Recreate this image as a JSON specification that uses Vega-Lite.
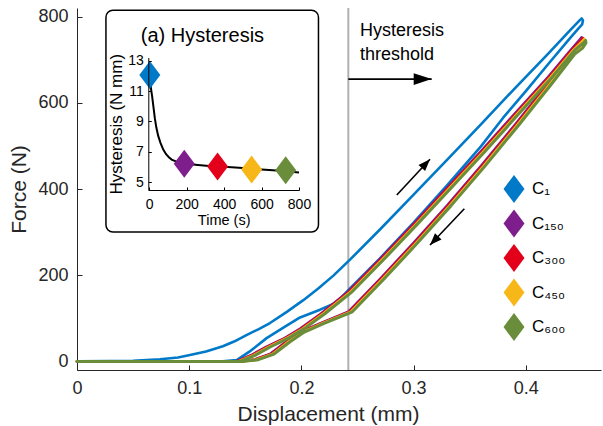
{
  "$schema": "https://vega.github.io/schema/vega-lite/v6.json",
  "width": 524,
  "height": 362,
  "autosize": {"type": "none"},
  "padding": {"left": 77, "top": 8, "right": 2, "bottom": 56},
  "config": {
    "font": "Liberation Sans",
    "view": {"stroke": null},
    "axis": {"grid": false, "labelFont": "Liberation Sans", "titleFont": "Liberation Sans", "titleFontWeight": "normal", "labelFlush": false, "labelOverlap": false},
    "legend": {"labelFont": "Liberation Sans"}
  },
  "datasets": {
    "threshold": [{"d": 0.2418, "f": -20, "f2": 820}],
    "box": [{"d": 0.0258, "d2": 0.2152, "f": 300, "f2": 815}],
    "notes": [
      {"d": 0.2522, "f": 755, "txt": "Hysteresis"},
      {"d": 0.2522, "f": 699, "txt": "threshold"}
    ],
    "insetTitle": [{"d": 0.0568, "f": 740, "txt": "(a) Hysteresis"}],
    "arrows": [
      {"name": "thr", "d": 0.2418, "f": 655, "d2": 0.3161, "f2": 655},
      {"name": "up", "d": 0.285, "f": 386, "d2": 0.3146, "f2": 469},
      {"name": "down", "d": 0.3452, "f": 354, "d2": 0.3146, "f2": 270}
    ],
    "heads": [
      {"name": "thr", "d": 0.3161, "f": 655},
      {"name": "up", "d": 0.3146, "f": 469},
      {"name": "down", "d": 0.3146, "f": 270}
    ],
    "fit": [
      {"t": 3, "h": 12.05}, {"t": 6, "h": 11.6}, {"t": 10, "h": 11.1}, {"t": 16, "h": 10.6},
      {"t": 22, "h": 10.0}, {"t": 30, "h": 9.2}, {"t": 38, "h": 8.6}, {"t": 48, "h": 8.05},
      {"t": 60, "h": 7.6}, {"t": 75, "h": 7.15}, {"t": 90, "h": 6.85}, {"t": 105, "h": 6.65},
      {"t": 120, "h": 6.5}, {"t": 145, "h": 6.36}, {"t": 175, "h": 6.27}, {"t": 210, "h": 6.2},
      {"t": 260, "h": 6.14}, {"t": 320, "h": 6.08}, {"t": 400, "h": 6.02}, {"t": 500, "h": 5.94},
      {"t": 600, "h": 5.85}, {"t": 700, "h": 5.76}, {"t": 800, "h": 5.65}
    ],
    "hyst": [
      {"series": "C₁", "t": 3, "h": 12.05},
      {"series": "C₁₅₀", "t": 187, "h": 6.23},
      {"series": "C₃₀₀", "t": 365, "h": 6.05},
      {"series": "C₄₅₀", "t": 547, "h": 5.84},
      {"series": "C₆₀₀", "t": 729, "h": 5.79}
    ],
    "curves": [
      {"series": "C₁", "i": 0, "d": 0, "f": 0},
      {"series": "C₁", "i": 1, "d": 0.03, "f": 0.5},
      {"series": "C₁", "i": 2, "d": 0.05, "f": 1.5},
      {"series": "C₁", "i": 3, "d": 0.074, "f": 5},
      {"series": "C₁", "i": 4, "d": 0.09, "f": 9},
      {"series": "C₁", "i": 5, "d": 0.1007, "f": 15},
      {"series": "C₁", "i": 6, "d": 0.115, "f": 23},
      {"series": "C₁", "i": 7, "d": 0.13, "f": 35},
      {"series": "C₁", "i": 8, "d": 0.14, "f": 46},
      {"series": "C₁", "i": 9, "d": 0.151, "f": 61},
      {"series": "C₁", "i": 10, "d": 0.162, "f": 75},
      {"series": "C₁", "i": 11, "d": 0.172, "f": 89},
      {"series": "C₁", "i": 12, "d": 0.187, "f": 115},
      {"series": "C₁", "i": 13, "d": 0.2017, "f": 142},
      {"series": "C₁", "i": 14, "d": 0.215, "f": 169},
      {"series": "C₁", "i": 15, "d": 0.2285, "f": 199},
      {"series": "C₁", "i": 16, "d": 0.2433, "f": 236},
      {"series": "C₁", "i": 17, "d": 0.27, "f": 306},
      {"series": "C₁", "i": 18, "d": 0.30, "f": 387},
      {"series": "C₁", "i": 19, "d": 0.33, "f": 468},
      {"series": "C₁", "i": 20, "d": 0.36, "f": 550},
      {"series": "C₁", "i": 21, "d": 0.39, "f": 633},
      {"series": "C₁", "i": 22, "d": 0.42, "f": 714},
      {"series": "C₁", "i": 23, "d": 0.44, "f": 770},
      {"series": "C₁", "i": 24, "d": 0.4475, "f": 790},
      {"series": "C₁", "i": 25, "d": 0.4498, "f": 796},
      {"series": "C₁", "i": 26, "d": 0.4509, "f": 791},
      {"series": "C₁", "i": 27, "d": 0.4502, "f": 782},
      {"series": "C₁", "i": 28, "d": 0.446, "f": 770},
      {"series": "C₁", "i": 29, "d": 0.44, "f": 752},
      {"series": "C₁", "i": 30, "d": 0.42, "f": 690},
      {"series": "C₁", "i": 31, "d": 0.40, "f": 627},
      {"series": "C₁", "i": 32, "d": 0.38, "f": 566},
      {"series": "C₁", "i": 33, "d": 0.36, "f": 499},
      {"series": "C₁", "i": 34, "d": 0.33, "f": 409},
      {"series": "C₁", "i": 35, "d": 0.30, "f": 322},
      {"series": "C₁", "i": 36, "d": 0.27, "f": 239},
      {"series": "C₁", "i": 37, "d": 0.2418, "f": 165},
      {"series": "C₁", "i": 38, "d": 0.2315, "f": 137},
      {"series": "C₁", "i": 39, "d": 0.2166, "f": 120},
      {"series": "C₁", "i": 40, "d": 0.1988, "f": 102},
      {"series": "C₁", "i": 41, "d": 0.185, "f": 80},
      {"series": "C₁", "i": 42, "d": 0.169, "f": 54},
      {"series": "C₁", "i": 43, "d": 0.155, "f": 25},
      {"series": "C₁", "i": 44, "d": 0.1423, "f": 3},
      {"series": "C₁", "i": 45, "d": 0.13, "f": 0},
      {"series": "C₁", "i": 46, "d": 0, "f": 0},

      {"series": "C₁₅₀", "i": 0, "d": 0, "f": 0},
      {"series": "C₁₅₀", "i": 1, "d": 0.142, "f": 0},
      {"series": "C₁₅₀", "i": 2, "d": 0.155, "f": 14},
      {"series": "C₁₅₀", "i": 3, "d": 0.169, "f": 34},
      {"series": "C₁₅₀", "i": 4, "d": 0.185, "f": 54},
      {"series": "C₁₅₀", "i": 5, "d": 0.199, "f": 76},
      {"series": "C₁₅₀", "i": 6, "d": 0.217, "f": 110},
      {"series": "C₁₅₀", "i": 7, "d": 0.2418, "f": 162},
      {"series": "C₁₅₀", "i": 8, "d": 0.27, "f": 237},
      {"series": "C₁₅₀", "i": 9, "d": 0.30, "f": 319},
      {"series": "C₁₅₀", "i": 10, "d": 0.33, "f": 403},
      {"series": "C₁₅₀", "i": 11, "d": 0.36, "f": 487},
      {"series": "C₁₅₀", "i": 12, "d": 0.39, "f": 574},
      {"series": "C₁₅₀", "i": 13, "d": 0.42, "f": 660},
      {"series": "C₁₅₀", "i": 14, "d": 0.44, "f": 722},
      {"series": "C₁₅₀", "i": 15, "d": 0.4485, "f": 748},
      {"series": "C₁₅₀", "i": 16, "d": 0.4497, "f": 752},
      {"series": "C₁₅₀", "i": 17, "d": 0.45, "f": 746},
      {"series": "C₁₅₀", "i": 18, "d": 0.447, "f": 734},
      {"series": "C₁₅₀", "i": 19, "d": 0.44, "f": 713},
      {"series": "C₁₅₀", "i": 20, "d": 0.42, "f": 646},
      {"series": "C₁₅₀", "i": 21, "d": 0.39, "f": 548},
      {"series": "C₁₅₀", "i": 22, "d": 0.36, "f": 453},
      {"series": "C₁₅₀", "i": 23, "d": 0.33, "f": 362},
      {"series": "C₁₅₀", "i": 24, "d": 0.30, "f": 275},
      {"series": "C₁₅₀", "i": 25, "d": 0.27, "f": 191},
      {"series": "C₁₅₀", "i": 26, "d": 0.2418, "f": 115},
      {"series": "C₁₅₀", "i": 27, "d": 0.2166, "f": 88},
      {"series": "C₁₅₀", "i": 28, "d": 0.199, "f": 68},
      {"series": "C₁₅₀", "i": 29, "d": 0.186, "f": 45},
      {"series": "C₁₅₀", "i": 30, "d": 0.172, "f": 17},
      {"series": "C₁₅₀", "i": 31, "d": 0.158, "f": 4},
      {"series": "C₁₅₀", "i": 32, "d": 0.145, "f": 0},
      {"series": "C₁₅₀", "i": 33, "d": 0, "f": 0},

      {"series": "C₃₀₀", "i": 0, "d": 0, "f": 0},
      {"series": "C₃₀₀", "i": 1, "d": 0.1432, "f": 0},
      {"series": "C₃₀₀", "i": 2, "d": 0.1562, "f": 14},
      {"series": "C₃₀₀", "i": 3, "d": 0.1702, "f": 34},
      {"series": "C₃₀₀", "i": 4, "d": 0.1862, "f": 54},
      {"series": "C₃₀₀", "i": 5, "d": 0.2002, "f": 76},
      {"series": "C₃₀₀", "i": 6, "d": 0.2182, "f": 110},
      {"series": "C₃₀₀", "i": 7, "d": 0.243, "f": 162},
      {"series": "C₃₀₀", "i": 8, "d": 0.2712, "f": 237},
      {"series": "C₃₀₀", "i": 9, "d": 0.3012, "f": 319},
      {"series": "C₃₀₀", "i": 10, "d": 0.3312, "f": 403},
      {"series": "C₃₀₀", "i": 11, "d": 0.3612, "f": 487},
      {"series": "C₃₀₀", "i": 12, "d": 0.3912, "f": 574},
      {"series": "C₃₀₀", "i": 13, "d": 0.4212, "f": 660},
      {"series": "C₃₀₀", "i": 14, "d": 0.4412, "f": 722},
      {"series": "C₃₀₀", "i": 15, "d": 0.4497, "f": 746},
      {"series": "C₃₀₀", "i": 16, "d": 0.4509, "f": 750},
      {"series": "C₃₀₀", "i": 17, "d": 0.4512, "f": 744},
      {"series": "C₃₀₀", "i": 18, "d": 0.4482, "f": 732},
      {"series": "C₃₀₀", "i": 19, "d": 0.4412, "f": 713},
      {"series": "C₃₀₀", "i": 20, "d": 0.4212, "f": 646},
      {"series": "C₃₀₀", "i": 21, "d": 0.3912, "f": 548},
      {"series": "C₃₀₀", "i": 22, "d": 0.3612, "f": 453},
      {"series": "C₃₀₀", "i": 23, "d": 0.3312, "f": 362},
      {"series": "C₃₀₀", "i": 24, "d": 0.3012, "f": 275},
      {"series": "C₃₀₀", "i": 25, "d": 0.2712, "f": 191},
      {"series": "C₃₀₀", "i": 26, "d": 0.243, "f": 115},
      {"series": "C₃₀₀", "i": 27, "d": 0.2178, "f": 88},
      {"series": "C₃₀₀", "i": 28, "d": 0.2002, "f": 68},
      {"series": "C₃₀₀", "i": 29, "d": 0.1872, "f": 45},
      {"series": "C₃₀₀", "i": 30, "d": 0.1732, "f": 17},
      {"series": "C₃₀₀", "i": 31, "d": 0.1592, "f": 4},
      {"series": "C₃₀₀", "i": 32, "d": 0.1462, "f": 0},
      {"series": "C₃₀₀", "i": 33, "d": 0, "f": 0},

      {"series": "C₄₅₀", "i": 0, "d": 0, "f": 0},
      {"series": "C₄₅₀", "i": 1, "d": 0.1444, "f": 0},
      {"series": "C₄₅₀", "i": 2, "d": 0.1574, "f": 14},
      {"series": "C₄₅₀", "i": 3, "d": 0.1714, "f": 34},
      {"series": "C₄₅₀", "i": 4, "d": 0.1874, "f": 54},
      {"series": "C₄₅₀", "i": 5, "d": 0.2014, "f": 76},
      {"series": "C₄₅₀", "i": 6, "d": 0.2194, "f": 110},
      {"series": "C₄₅₀", "i": 7, "d": 0.2442, "f": 162},
      {"series": "C₄₅₀", "i": 8, "d": 0.2724, "f": 237},
      {"series": "C₄₅₀", "i": 9, "d": 0.3024, "f": 319},
      {"series": "C₄₅₀", "i": 10, "d": 0.3324, "f": 403},
      {"series": "C₄₅₀", "i": 11, "d": 0.3624, "f": 487},
      {"series": "C₄₅₀", "i": 12, "d": 0.3924, "f": 574},
      {"series": "C₄₅₀", "i": 13, "d": 0.4224, "f": 660},
      {"series": "C₄₅₀", "i": 14, "d": 0.4424, "f": 722},
      {"series": "C₄₅₀", "i": 15, "d": 0.4509, "f": 744},
      {"series": "C₄₅₀", "i": 16, "d": 0.4521, "f": 748},
      {"series": "C₄₅₀", "i": 17, "d": 0.4524, "f": 742},
      {"series": "C₄₅₀", "i": 18, "d": 0.4494, "f": 730},
      {"series": "C₄₅₀", "i": 19, "d": 0.4424, "f": 713},
      {"series": "C₄₅₀", "i": 20, "d": 0.4224, "f": 646},
      {"series": "C₄₅₀", "i": 21, "d": 0.3924, "f": 548},
      {"series": "C₄₅₀", "i": 22, "d": 0.3624, "f": 453},
      {"series": "C₄₅₀", "i": 23, "d": 0.3324, "f": 362},
      {"series": "C₄₅₀", "i": 24, "d": 0.3024, "f": 275},
      {"series": "C₄₅₀", "i": 25, "d": 0.2724, "f": 191},
      {"series": "C₄₅₀", "i": 26, "d": 0.2442, "f": 115},
      {"series": "C₄₅₀", "i": 27, "d": 0.219, "f": 88},
      {"series": "C₄₅₀", "i": 28, "d": 0.2014, "f": 68},
      {"series": "C₄₅₀", "i": 29, "d": 0.1884, "f": 45},
      {"series": "C₄₅₀", "i": 30, "d": 0.1744, "f": 17},
      {"series": "C₄₅₀", "i": 31, "d": 0.1604, "f": 4},
      {"series": "C₄₅₀", "i": 32, "d": 0.1474, "f": 0},
      {"series": "C₄₅₀", "i": 33, "d": 0, "f": 0},

      {"series": "C₆₀₀", "i": 0, "d": 0, "f": 0},
      {"series": "C₆₀₀", "i": 1, "d": 0.1456, "f": 0},
      {"series": "C₆₀₀", "i": 2, "d": 0.1586, "f": 14},
      {"series": "C₆₀₀", "i": 3, "d": 0.1726, "f": 34},
      {"series": "C₆₀₀", "i": 4, "d": 0.1886, "f": 54},
      {"series": "C₆₀₀", "i": 5, "d": 0.2026, "f": 76},
      {"series": "C₆₀₀", "i": 6, "d": 0.2206, "f": 110},
      {"series": "C₆₀₀", "i": 7, "d": 0.2454, "f": 162},
      {"series": "C₆₀₀", "i": 8, "d": 0.2736, "f": 237},
      {"series": "C₆₀₀", "i": 9, "d": 0.3036, "f": 319},
      {"series": "C₆₀₀", "i": 10, "d": 0.3336, "f": 403},
      {"series": "C₆₀₀", "i": 11, "d": 0.3636, "f": 487},
      {"series": "C₆₀₀", "i": 12, "d": 0.3936, "f": 574},
      {"series": "C₆₀₀", "i": 13, "d": 0.4236, "f": 660},
      {"series": "C₆₀₀", "i": 14, "d": 0.4436, "f": 722},
      {"series": "C₆₀₀", "i": 15, "d": 0.4521, "f": 741},
      {"series": "C₆₀₀", "i": 16, "d": 0.4533, "f": 745},
      {"series": "C₆₀₀", "i": 17, "d": 0.4536, "f": 739},
      {"series": "C₆₀₀", "i": 18, "d": 0.4506, "f": 727},
      {"series": "C₆₀₀", "i": 19, "d": 0.4436, "f": 713},
      {"series": "C₆₀₀", "i": 20, "d": 0.4236, "f": 646},
      {"series": "C₆₀₀", "i": 21, "d": 0.3936, "f": 548},
      {"series": "C₆₀₀", "i": 22, "d": 0.3636, "f": 453},
      {"series": "C₆₀₀", "i": 23, "d": 0.3336, "f": 362},
      {"series": "C₆₀₀", "i": 24, "d": 0.3036, "f": 275},
      {"series": "C₆₀₀", "i": 25, "d": 0.2736, "f": 191},
      {"series": "C₆₀₀", "i": 26, "d": 0.2454, "f": 115},
      {"series": "C₆₀₀", "i": 27, "d": 0.2202, "f": 88},
      {"series": "C₆₀₀", "i": 28, "d": 0.2026, "f": 68},
      {"series": "C₆₀₀", "i": 29, "d": 0.1896, "f": 45},
      {"series": "C₆₀₀", "i": 30, "d": 0.1756, "f": 17},
      {"series": "C₆₀₀", "i": 31, "d": 0.1616, "f": 4},
      {"series": "C₆₀₀", "i": 32, "d": 0.1486, "f": 0},
      {"series": "C₆₀₀", "i": 33, "d": 0, "f": 0}
    ]
  },
  "layer": [
    {
      "encoding": {
        "x": {
          "field": "d", "type": "quantitative",
          "scale": {"domain": [0, 0.467], "nice": false, "zero": false},
          "axis": {
            "values": [0, 0.1, 0.2, 0.3, 0.4], "format": "~g",
            "tickSize": -5, "labelPadding": 14, "labelFontSize": 18,
            "labelColor": "#262626", "domainColor": "#262626", "tickColor": "#262626",
            "title": "Displacement (mm)", "titleFontSize": 21, "titleColor": "#262626", "titlePadding": 6, "titleX": 251
          }
        },
        "y": {
          "field": "f", "type": "quantitative",
          "scale": {"domain": [-20, 820], "nice": false, "zero": false},
          "axis": {
            "values": [0, 200, 400, 600, 800],
            "tickSize": -5, "labelPadding": 14, "labelFontSize": 18,
            "labelColor": "#262626", "domainColor": "#262626", "tickColor": "#262626",
            "title": "Force (N)", "titleFontSize": 21, "titleColor": "#262626", "titlePadding": 8
          }
        }
      },
      "layer": [
        {
          "data": {"name": "threshold"},
          "mark": {"type": "rule", "color": "#B0B0B0", "strokeWidth": 2},
          "encoding": {"y2": {"field": "f2"}}
        },
        {
          "data": {"name": "curves"},
          "mark": {"type": "line", "strokeCap": "round", "strokeJoin": "round"},
          "encoding": {
            "order": {"field": "i", "type": "quantitative"},
            "stroke": {
              "field": "series", "type": "nominal",
              "scale": {"domain": ["C₁", "C₁₅₀", "C₃₀₀", "C₄₅₀", "C₆₀₀"], "range": ["#0079C9", "#7D1E8C", "#E2001A", "#F7B718", "#6A8D3B"]},
              "legend": null
            },
            "strokeWidth": {
              "field": "series", "type": "nominal",
              "scale": {"domain": ["C₁", "C₁₅₀", "C₃₀₀", "C₄₅₀", "C₆₀₀"], "range": [2.6, 3, 3, 3, 3.8]},
              "legend": null
            }
          }
        },
        {
          "data": {"name": "box"},
          "mark": {"type": "rect", "fill": "#FFFFFF", "stroke": "#000000", "strokeWidth": 1.5, "cornerRadius": 7},
          "encoding": {"x2": {"field": "d2"}, "y2": {"field": "f2"}}
        },
        {
          "data": {"name": "insetTitle"},
          "mark": {"type": "text", "align": "left", "baseline": "alphabetic", "fontSize": 20, "color": "#000000"},
          "encoding": {"text": {"field": "txt"}}
        },
        {
          "data": {"name": "notes"},
          "mark": {"type": "text", "align": "left", "baseline": "alphabetic", "fontSize": 18, "color": "#000000"},
          "encoding": {"text": {"field": "txt"}}
        },
        {
          "data": {"name": "arrows"},
          "mark": {"type": "rule", "color": "#000000", "strokeWidth": 1.6},
          "encoding": {"x2": {"field": "d2"}, "y2": {"field": "f2"}}
        },
        {
          "data": {"name": "heads"},
          "transform": [{"filter": "datum.name == 'thr'"}],
          "mark": {"type": "point", "filled": true, "opacity": 1, "color": "#000000", "strokeWidth": 0, "shape": "M0,0L0.33,1L-0.33,1Z", "size": 1296, "angle": 90},
          "encoding": {}
        },
        {
          "data": {"name": "heads"},
          "transform": [{"filter": "datum.name == 'up'"}],
          "mark": {"type": "point", "filled": true, "opacity": 1, "color": "#000000", "strokeWidth": 0, "shape": "M0,0L0.375,1L-0.375,1Z", "size": 576, "angle": 43},
          "encoding": {}
        },
        {
          "data": {"name": "heads"},
          "transform": [{"filter": "datum.name == 'down'"}],
          "mark": {"type": "point", "filled": true, "opacity": 1, "color": "#000000", "strokeWidth": 0, "shape": "M0,0L0.375,1L-0.375,1Z", "size": 576, "angle": 223.6},
          "encoding": {}
        }
      ]
    },
    {
      "encoding": {
        "x": {
          "field": "t", "type": "quantitative",
          "scale": {"domain": [-5, 800], "range": [71.3, 222], "nice": false, "zero": false},
          "axis": {
            "orient": "bottom", "offset": -180, "values": [0, 200, 400, 600, 800],
            "tickSize": -3, "labelPadding": 10, "labelFontSize": 14,
            "labelColor": "#000000", "domainColor": "#000000", "tickColor": "#000000",
            "title": "Time (s)", "titleFontSize": 14.5, "titleColor": "#000000", "titlePadding": 2, "zindex": 1
          }
        },
        "y": {
          "field": "h", "type": "quantitative",
          "scale": {"domain": [4.5, 13.2], "range": [182, 49.5], "nice": false, "zero": false},
          "axis": {
            "orient": "left", "offset": -71.3, "values": [5, 7, 9, 11, 13],
            "tickSize": -3, "labelPadding": 8, "labelFontSize": 14,
            "labelColor": "#000000", "domainColor": "#000000", "tickColor": "#000000",
            "title": "Hysteresis (N mm)", "titleFontSize": 17, "titleColor": "#000000", "titlePadding": 2, "zindex": 1
          }
        }
      },
      "layer": [
        {
          "data": {"name": "fit"},
          "mark": {"type": "line", "color": "#000000", "strokeWidth": 2},
          "encoding": {}
        },
        {
          "data": {"name": "hyst"},
          "mark": {"type": "point", "filled": true, "opacity": 1, "shape": "M0,-1L0.75,0L0,1L-0.75,0Z", "size": 784},
          "encoding": {
            "color": {
              "field": "series", "type": "nominal",
              "scale": {"domain": ["C₁", "C₁₅₀", "C₃₀₀", "C₄₅₀", "C₆₀₀"], "range": ["#0079C9", "#7D1E8C", "#E2001A", "#F7B718", "#6A8D3B"]},
              "legend": {
                "orient": "none", "legendX": 423, "legendY": 167, "title": null,
                "symbolType": "M0,-1L0.75,0L0,1L-0.75,0Z", "symbolSize": 784, "symbolStrokeWidth": 0, "symbolOpacity": 1,
                "labelFontSize": 17, "labelColor": "#000000", "rowPadding": 6.5, "labelOffset": 4, "padding": 0
              }
            }
          }
        }
      ]
    }
  ],
  "resolve": {
    "scale": {"x": "independent", "y": "independent", "color": "independent"},
    "legend": {"color": "independent"}
  }
}
